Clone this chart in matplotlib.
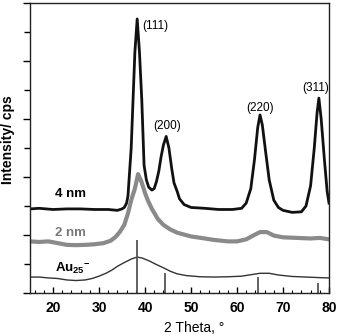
import matplotlib
matplotlib.use("Agg")
import matplotlib.pyplot as plt
from matplotlib.ticker import MultipleLocator, NullFormatter

plt.rcParams['font.family'] = ['Liberation Sans', 'DejaVu Sans']
plt.rcParams['mathtext.fontset'] = 'custom'
plt.rcParams['mathtext.rm'] = 'Liberation Sans:bold'
plt.rcParams['mathtext.it'] = 'Liberation Sans:bold'
plt.rcParams['mathtext.bf'] = 'Liberation Sans:bold'

# 4 nm sample
x_4nm = [15, 17, 20, 23, 26, 29, 32, 34, 35, 35.5, 36, 36.3, 36.7, 37, 37.4, 37.8, 38.3,
         38.8, 39.3, 39.8, 40.3, 40.8, 41.5, 42, 42.5, 43, 43.5, 44, 44.6, 45.2, 45.8,
         46.3, 47, 47.5, 48.5, 50, 53, 56, 59, 61, 62, 63, 63.8, 64.5, 65, 65.5, 66.2,
         67, 68, 69, 70, 72, 74, 75, 76, 76.8, 77.4, 77.8, 78.3, 79, 79.6, 80]
y_4nm = [2.9, 2.92, 2.88, 2.9, 2.9, 2.88, 2.88, 2.85, 2.9, 2.95, 3.1, 3.35, 4.3, 5.0, 6.66, 8.3, 9.45,
         8.3, 6.66, 4.4, 3.9, 3.65, 3.55, 3.6, 3.85, 4.2, 4.7, 5.1, 5.4, 5.0, 4.3,
         3.8, 3.5, 3.25, 3.05, 2.95, 2.92, 2.88, 2.88, 2.92, 3.1, 3.6, 4.6, 5.7, 6.14, 5.8, 4.9,
         3.9, 3.2, 2.95, 2.85, 2.78, 2.8, 3.0, 3.7, 5.0, 6.2, 6.72, 6.0, 4.6, 3.5, 3.1]

# 2 nm sample
x_2nm = [15, 17, 19, 21, 23, 25, 27, 29, 31, 32.5, 33.5, 34.5, 35.5, 36.3, 37, 37.8, 38.5,
         39.2, 40, 40.6, 41.5, 42.8, 44, 45.4, 47, 50, 53, 55, 58, 60, 62, 63.5, 65,
         66.5, 68, 70, 73, 76, 78, 80]
y_2nm = [1.78, 1.76, 1.78, 1.72, 1.66, 1.65, 1.66, 1.68, 1.72, 1.8, 1.92, 2.1, 2.35, 2.75, 3.2, 3.6, 4.1,
         3.85, 3.45, 3.2, 2.9, 2.55, 2.35, 2.2, 2.08, 1.95, 1.88, 1.83, 1.78, 1.78, 1.85, 1.98, 2.1,
         2.1, 1.98, 1.92, 1.9, 1.88, 1.9, 1.85]

# Au25- clusters
x_au25 = [15, 17, 19, 21, 23, 25, 27, 28.5, 30, 31.5, 32.8, 34, 35.5, 37, 38.3, 39.5, 41,
          42.5, 44, 45.5, 47, 49, 52, 55, 58, 61, 63, 65, 67, 69, 72, 75, 78, 80]
y_au25 = [0.55, 0.55, 0.52, 0.5, 0.45, 0.43, 0.45, 0.5, 0.58, 0.68, 0.79, 0.92, 1.05, 1.17, 1.24, 1.2, 1.1,
          0.98, 0.87, 0.75, 0.66, 0.6, 0.56, 0.55, 0.56, 0.58, 0.63, 0.68, 0.68, 0.62, 0.57, 0.55, 0.53, 0.52]

# Reference Au reflections
ref_pos = [38.18, 44.39, 64.58, 77.55]
ref_height = [1.83, 0.7, 0.55, 0.35]

peak_labels = ["(111)", "(200)", "(220)", "(311)"]
peak_label_x = [42.2, 44.8, 65.0, 77.0]
peak_label_y = [9.2, 5.75, 6.38, 7.07]

fig = plt.figure(figsize=(3.39, 3.36), dpi=100)
ax = fig.add_axes([30/339, 43/336, 299/339, 290/336])

ax.plot(x_au25, y_au25, color='#333333', lw=1.0)
ax.vlines(ref_pos, 0, ref_height, color='#555555', lw=1.3)
ax.plot(x_2nm, y_2nm, color='#8a8a8a', lw=3.0)
ax.plot(x_4nm, y_4nm, color='#111111', lw=2.0)

for t, px, py in zip(peak_labels, peak_label_x, peak_label_y):
    ax.text(px, py, t, ha='center', va='center', fontsize=8.5)

ax.text(20.4, 3.4, "4 nm", fontsize=9.5, fontweight='bold', va='center', ha='left')
ax.text(20.4, 2.07, "2 nm", fontsize=9.5, fontweight='bold', va='center', ha='left', color='#777777')
ax.text(20.4, 0.86, r"Au$_{25}$$^{-}$", fontsize=9.5, fontweight='bold', va='center', ha='left')

ax.set_xlim(15, 80)
ax.set_ylim(0, 10)
ax.xaxis.set_major_locator(MultipleLocator(10))
ax.xaxis.set_minor_locator(MultipleLocator(2))
ax.yaxis.set_major_locator(MultipleLocator(2))
ax.yaxis.set_minor_locator(MultipleLocator(1))
ax.yaxis.set_major_formatter(NullFormatter())
ax.tick_params(axis='x', which='major', direction='in', length=4, width=1, labelsize=10, pad=6)
ax.tick_params(axis='x', which='minor', direction='in', length=2.5, width=0.8)
ax.tick_params(axis='y', which='major', direction='out', length=5, width=1)
ax.tick_params(axis='y', which='minor', direction='out', length=4, width=1)
for lab in ax.get_xticklabels():
    lab.set_fontweight('bold')
for s in ax.spines.values():
    s.set_linewidth(1.0)
    s.set_color('#222222')

ax.set_xlabel("2 Theta, °", fontsize=10)
ax.xaxis.set_label_coords(0.55, -0.095)
ax.set_ylabel("Intensity/ cps", fontsize=10, fontweight='bold')
ax.yaxis.set_label_coords(-0.05, 0.53)

fig.savefig("out.png", dpi=100)
